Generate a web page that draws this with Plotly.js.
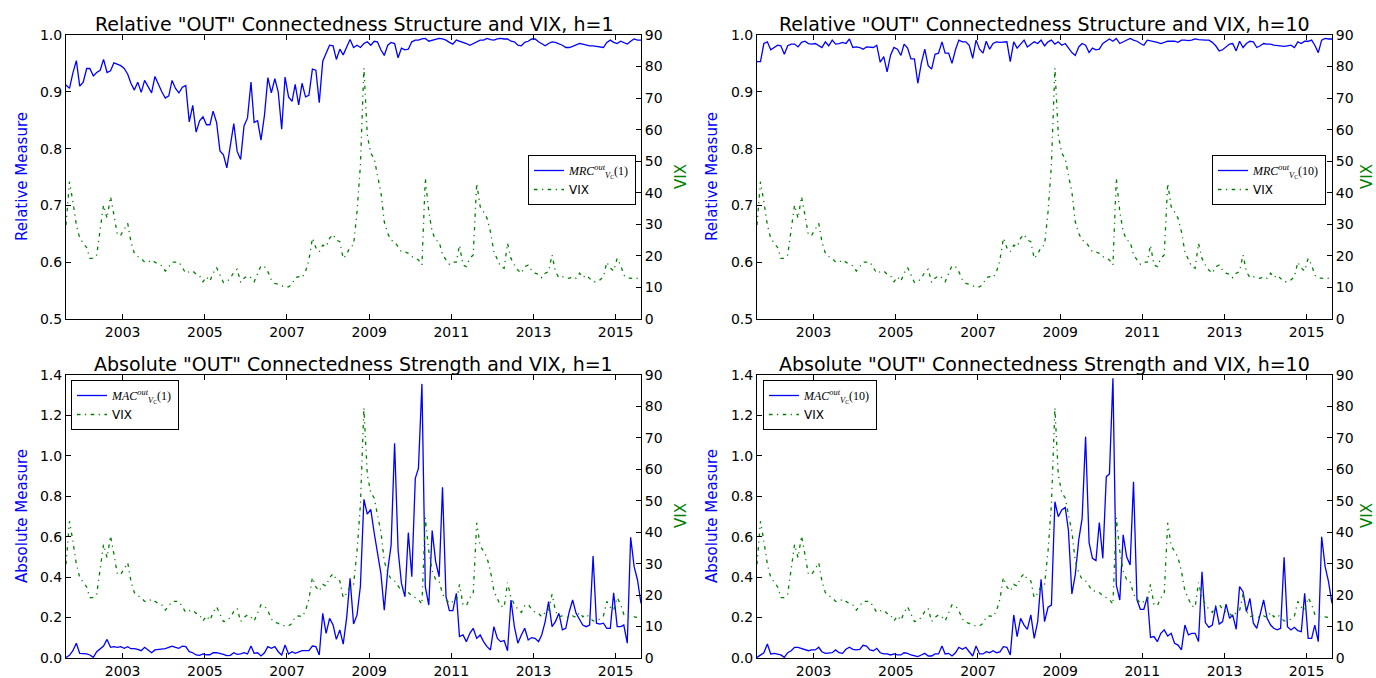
<!DOCTYPE html>
<html>
<head>
<meta charset="utf-8">
<script src="https://cdn.plot.ly/plotly-3.0.1.min.js"></script>
<style>html,body{margin:0;padding:0;background:#fff;}</style>
</head>
<body>
<div id="chart" style="width:1376px;height:678px;"></div>
<script>
// Monthly observations, Aug 2001 .. Aug 2015
const firstYear = 2001, firstMonth = 8, monthCount = 169;
const dates = [];
for (let k = 0; k < monthCount; k++) {
  const m = firstMonth - 1 + k;
  dates.push(`${firstYear + Math.floor(m / 12)}-${String((m % 12) + 1).padStart(2, '0')}-15`);
}

const yearTicks = ['2003', '2005', '2007', '2009', '2011', '2013', '2015'];

const vix = [
  29.8, 43.5, 37.2, 29.8, 25.6, 24.0, 22.6, 19.2, 19.2, 20.3,
  27.7, 36.1, 31.9, 38.8, 33.0, 26.6, 26.6, 28.7, 30.3, 24.5,
  20.8, 19.8, 19.2, 18.0, 18.0, 18.7, 18.0, 17.3, 16.9, 15.2,
  16.6, 18.0, 18.0, 18.0, 16.3, 14.5, 15.0, 15.2, 14.2, 13.7,
  11.8, 13.4, 12.0, 14.5, 16.3, 13.7, 11.6, 11.8, 12.9, 14.8,
  15.8, 11.6, 12.9, 13.7, 13.1, 11.8, 14.5, 16.9, 16.6, 15.0,
  12.4, 11.3, 11.0, 10.6, 10.1, 10.2, 11.0, 13.1, 13.4, 13.1,
  15.0, 18.7, 25.6, 22.6, 21.3, 23.4, 22.9, 25.6, 26.8, 25.0,
  24.5, 19.2, 20.5, 22.9, 23.4, 34.0, 48.8, 79.6, 58.3, 52.5,
  50.9, 45.6, 40.3, 30.8, 27.1, 25.0, 24.5, 22.9, 21.3, 21.3,
  20.8, 19.8, 19.2, 18.7, 17.1, 44.6, 34.0, 27.7, 25.0, 24.5,
  20.3, 18.7, 17.3, 18.0, 18.0, 23.4, 17.1, 16.6, 19.2, 20.3,
  43.0, 35.6, 34.0, 31.9, 27.7, 21.3, 18.7, 16.6, 16.1, 24.0,
  19.2, 17.1, 15.5, 14.5, 16.6, 17.1, 15.5, 14.5, 14.2, 13.1,
  14.5, 15.0, 20.3, 15.0, 13.1, 13.4, 13.1, 12.9, 13.4, 12.9,
  14.5, 13.1, 13.9, 12.9, 11.8, 11.8, 12.4, 13.4, 18.0, 16.1,
  15.2, 19.2, 17.1, 13.9, 13.1, 12.9, 13.1, 12.9, 12.7
];

const mrc1 = [
  0.912, 0.906, 0.933, 0.955, 0.910, 0.917, 0.941, 0.941, 0.928, 0.934,
  0.938, 0.957, 0.934, 0.937, 0.951, 0.948, 0.946, 0.941, 0.931, 0.915,
  0.903, 0.917, 0.899, 0.920, 0.910, 0.898, 0.927, 0.913, 0.900, 0.889,
  0.893, 0.920, 0.906, 0.898, 0.908, 0.911, 0.847, 0.876, 0.829, 0.849,
  0.856, 0.842, 0.842, 0.866, 0.846, 0.796, 0.789, 0.766, 0.806, 0.844,
  0.795, 0.781, 0.840, 0.854, 0.917, 0.846, 0.849, 0.815, 0.859, 0.925,
  0.898, 0.923, 0.900, 0.834, 0.926, 0.891, 0.883, 0.913, 0.877, 0.915,
  0.891, 0.894, 0.940, 0.938, 0.881, 0.954, 0.968, 0.982, 0.981, 0.957,
  0.975, 0.965, 0.979, 0.992, 0.978, 0.982, 0.978, 0.985, 0.988, 0.982,
  0.989, 0.988, 0.974, 0.964, 0.982, 0.987, 0.985, 0.960, 0.977, 0.974,
  0.975, 0.988, 0.991, 0.991, 0.993, 0.994, 0.989, 0.991, 0.993, 0.994,
  0.993, 0.991, 0.987, 0.984, 0.991, 0.989, 0.988, 0.985, 0.982, 0.985,
  0.988, 0.991, 0.991, 0.994, 0.992, 0.991, 0.993, 0.994, 0.993, 0.993,
  0.989, 0.988, 0.982, 0.981, 0.987, 0.989, 0.993, 0.993, 0.988, 0.984,
  0.981, 0.985, 0.988, 0.987, 0.985, 0.982, 0.978, 0.978, 0.980, 0.982,
  0.985, 0.984, 0.982, 0.981, 0.981, 0.980, 0.980, 0.978, 0.987, 0.991,
  0.987, 0.985, 0.989, 0.987, 0.984, 0.989, 0.993, 0.991, 0.991
];

const mrc10 = [
  0.953, 0.953, 0.985, 0.988, 0.974, 0.978, 0.982, 0.981, 0.966, 0.981,
  0.984, 0.984, 0.979, 0.987, 0.989, 0.985, 0.984, 0.985, 0.982, 0.978,
  0.988, 0.981, 0.991, 0.984, 0.985, 0.987, 0.985, 0.993, 0.978, 0.979,
  0.978, 0.975, 0.979, 0.979, 0.978, 0.982, 0.952, 0.962, 0.935, 0.965,
  0.978, 0.975, 0.964, 0.984, 0.977, 0.958, 0.958, 0.915, 0.950, 0.975,
  0.946, 0.940, 0.966, 0.968, 0.988, 0.968, 0.968, 0.950, 0.974, 0.991,
  0.988, 0.988, 0.982, 0.959, 0.991, 0.975, 0.968, 0.989, 0.975, 0.985,
  0.988, 0.987, 0.987, 0.988, 0.953, 0.988, 0.977, 0.985, 0.991, 0.979,
  0.984, 0.988, 0.985, 0.991, 0.981, 0.988, 0.991, 0.984, 0.988, 0.982,
  0.985, 0.978, 0.969, 0.964, 0.979, 0.985, 0.982, 0.969, 0.977, 0.974,
  0.975, 0.985, 0.989, 0.993, 0.989, 0.994, 0.985, 0.988, 0.991, 0.994,
  0.991, 0.989, 0.985, 0.982, 0.991, 0.990, 0.988, 0.987, 0.985, 0.987,
  0.989, 0.989, 0.989, 0.987, 0.991, 0.991, 0.990, 0.991, 0.993, 0.992,
  0.991, 0.991, 0.991, 0.987, 0.981, 0.972, 0.974, 0.979, 0.984, 0.985,
  0.972, 0.989, 0.978, 0.985, 0.989, 0.988, 0.978, 0.981, 0.985, 0.984,
  0.984, 0.982, 0.981, 0.981, 0.980, 0.981, 0.982, 0.978, 0.988, 0.985,
  0.989, 0.989, 0.991, 0.982, 0.969, 0.991, 0.994, 0.993, 0.993
];

const mac1 = [
  0.003, 0.013, 0.036, 0.073, 0.023, 0.023, 0.020, 0.015, 0.003, 0.031,
  0.043, 0.059, 0.092, 0.053, 0.056, 0.053, 0.056, 0.048, 0.056, 0.046,
  0.046, 0.043, 0.036, 0.053, 0.040, 0.026, 0.040, 0.043, 0.043, 0.046,
  0.053, 0.059, 0.053, 0.048, 0.059, 0.056, 0.031, 0.026, 0.015, 0.013,
  0.020, 0.016, 0.016, 0.026, 0.026, 0.023, 0.018, 0.012, 0.013, 0.026,
  0.018, 0.020, 0.026, 0.020, 0.059, 0.023, 0.026, 0.010, 0.026, 0.056,
  0.048, 0.056, 0.031, 0.015, 0.064, 0.020, 0.031, 0.023, 0.031, 0.036,
  0.036, 0.036, 0.059, 0.056, 0.015, 0.221, 0.122, 0.196, 0.163, 0.092,
  0.139, 0.069, 0.201, 0.394, 0.168, 0.213, 0.356, 0.785, 0.712, 0.735,
  0.617, 0.526, 0.419, 0.237, 0.435, 0.559, 1.062, 0.534, 0.369, 0.303,
  0.620, 0.402, 0.889, 0.938, 1.356, 0.353, 0.262, 0.630, 0.477, 0.402,
  0.844, 0.303, 0.234, 0.234, 0.320, 0.106, 0.114, 0.081, 0.122, 0.147,
  0.097, 0.114, 0.081, 0.056, 0.040, 0.155, 0.097, 0.081, 0.086, 0.036,
  0.287, 0.155, 0.073, 0.114, 0.147, 0.089, 0.101, 0.097, 0.081, 0.114,
  0.180, 0.279, 0.155, 0.180, 0.221, 0.139, 0.147, 0.229, 0.287, 0.221,
  0.188, 0.163, 0.155, 0.163, 0.505, 0.172, 0.168, 0.172, 0.147, 0.147,
  0.323, 0.155, 0.155, 0.163, 0.073, 0.597, 0.452, 0.386, 0.270
];

const mac10 = [
  0.003, 0.013, 0.026, 0.069, 0.020, 0.023, 0.020, 0.015, 0.003, 0.026,
  0.036, 0.053, 0.053, 0.048, 0.040, 0.036, 0.040, 0.040, 0.053, 0.031,
  0.023, 0.026, 0.026, 0.040, 0.026, 0.023, 0.043, 0.053, 0.043, 0.040,
  0.043, 0.063, 0.059, 0.040, 0.036, 0.048, 0.026, 0.020, 0.020, 0.015,
  0.020, 0.015, 0.015, 0.026, 0.023, 0.015, 0.010, 0.007, 0.015, 0.023,
  0.010, 0.010, 0.020, 0.020, 0.059, 0.020, 0.023, 0.010, 0.026, 0.053,
  0.043, 0.053, 0.031, 0.010, 0.059, 0.020, 0.020, 0.031, 0.026, 0.036,
  0.026, 0.030, 0.056, 0.053, 0.015, 0.213, 0.106, 0.196, 0.163, 0.142,
  0.213, 0.097, 0.180, 0.389, 0.180, 0.251, 0.262, 0.773, 0.699, 0.732,
  0.745, 0.633, 0.317, 0.411, 0.584, 0.691, 1.095, 0.571, 0.493, 0.482,
  0.670, 0.493, 0.897, 0.910, 1.384, 0.361, 0.287, 0.609, 0.501, 0.460,
  0.872, 0.287, 0.241, 0.241, 0.303, 0.102, 0.106, 0.081, 0.122, 0.139,
  0.109, 0.122, 0.073, 0.064, 0.040, 0.163, 0.114, 0.122, 0.122, 0.081,
  0.427, 0.175, 0.152, 0.163, 0.257, 0.168, 0.180, 0.267, 0.196, 0.213,
  0.142, 0.353, 0.328, 0.229, 0.295, 0.172, 0.147, 0.221, 0.287, 0.196,
  0.163, 0.147, 0.139, 0.147, 0.498, 0.155, 0.139, 0.152, 0.135, 0.130,
  0.320, 0.097, 0.097, 0.163, 0.081, 0.600, 0.452, 0.378, 0.270
];

// ---- layout helpers (pixel -> paper) ----
const W = 1376, H = 678;
const fx = v => v / W;
const fy = v => 1 - v / H;
const colL = [fx(66), fx(641)], colR = [fx(757), fx(1332)];
const rowT = [fy(319), fy(35)], rowB = [fy(658), fy(375)];

const BLUE = '#0000ff', GREEN = '#008000';
const FONT = 'DejaVu Sans, Bitstream Vera Sans, sans-serif';

const frame = {
  showline: true, linecolor: 'black', linewidth: 1,
  ticks: 'inside', ticklen: 5, tickwidth: 1, tickcolor: 'black',
  showgrid: false, zeroline: false, fixedrange: true,
  tickfont: {family: FONT, size: 14, color: 'black'}
};

function xAxis(domain, anchor) {
  return Object.assign({}, frame, {
    type: 'date', domain, anchor, mirror: 'ticks',
    range: [dates[0], dates[dates.length - 1]],
    tickvals: yearTicks.map(y => y + '-01-01'), ticktext: yearTicks
  });
}
function leftAxis(domain, anchor, lo, hi, step) {
  return Object.assign({}, frame, {
    domain, anchor, range: [lo, hi], tick0: lo, dtick: step, tickformat: '.1f'
  });
}
function vixAxis(over, anchor) {
  return Object.assign({}, frame, {
    overlaying: over, anchor, side: 'right', range: [0, 90], tick0: 0, dtick: 10
  });
}

const mathName = (base, h) =>
  `<span style="font-family:'Liberation Serif',serif"><i>${base}</i><sup><i>out</i></sup><sub><i>V</i><sub>C</sub></sub>(${h})</span>`;

const lineW = 1.3;
const vixDash = '3.5px,4.5px,1.2px,4.5px';

function panel(xa, ya, yb, series, label, legendId) {
  return [
    {x: dates, y: series, xaxis: xa, yaxis: ya, type: 'scatter', mode: 'lines',
     name: label, legend: legendId, line: {color: BLUE, width: lineW}, hoverinfo: 'skip'},
    {x: dates, y: vix, xaxis: xa, yaxis: yb, type: 'scatter', mode: 'lines',
     name: 'VIX', legend: legendId, line: {color: GREEN, width: lineW, dash: vixDash}, hoverinfo: 'skip'}
  ];
}

const data = [].concat(
  panel('x', 'y', 'y2', mrc1, mathName('MRC', 1), 'legend'),
  panel('x2', 'y3', 'y4', mrc10, mathName('MRC', 10), 'legend2'),
  panel('x3', 'y5', 'y6', mac1, mathName('MAC', 1), 'legend3'),
  panel('x4', 'y7', 'y8', mac10, mathName('MAC', 10), 'legend4')
);

const legendBase = {
  bordercolor: 'black', borderwidth: 1, bgcolor: 'white',
  font: {family: FONT, size: 12, color: 'black'},
  itemwidth: 30, tracegroupgap: 0, orientation: 'v'
};

function title(text, cx, bottomPx) {
  return {text, xref: 'paper', yref: 'paper', x: cx, y: fy(bottomPx),
          xanchor: 'center', yanchor: 'bottom', showarrow: false,
          font: {family: FONT, size: 19, color: 'black'}};
}
function sideLabel(text, xPx, yMidPx, color) {
  return {text, xref: 'paper', yref: 'paper', x: fx(xPx), y: fy(yMidPx),
          xanchor: 'center', yanchor: 'middle', textangle: -90, showarrow: false,
          font: {family: FONT, size: 15, color}};
}

const layout = {
  width: W, height: H,
  margin: {l: 0, r: 0, t: 0, b: 0},
  paper_bgcolor: 'white', plot_bgcolor: 'white',
  xaxis: xAxis(colL, 'y'),
  yaxis: leftAxis(rowT, 'x', 0.5, 1.0, 0.1),
  yaxis2: vixAxis('y', 'x'),
  xaxis2: xAxis(colR, 'y3'),
  yaxis3: leftAxis(rowT, 'x2', 0.5, 1.0, 0.1),
  yaxis4: vixAxis('y3', 'x2'),
  xaxis3: xAxis(colL, 'y5'),
  yaxis5: leftAxis(rowB, 'x3', 0, 1.4, 0.2),
  yaxis6: vixAxis('y5', 'x3'),
  xaxis4: xAxis(colR, 'y7'),
  yaxis7: leftAxis(rowB, 'x4', 0, 1.4, 0.2),
  yaxis8: vixAxis('y7', 'x4'),
  legend:  Object.assign({}, legendBase, {x: fx(636), xanchor: 'right', y: fy(155), yanchor: 'top'}),
  legend2: Object.assign({}, legendBase, {x: fx(1326), xanchor: 'right', y: fy(155), yanchor: 'top'}),
  legend3: Object.assign({}, legendBase, {x: fx(71), xanchor: 'left', y: fy(380), yanchor: 'top'}),
  legend4: Object.assign({}, legendBase, {x: fx(763), xanchor: 'left', y: fy(380), yanchor: 'top'}),
  annotations: [
    title('Relative "OUT" Connectedness Structure and VIX, h=1', fx(353.5), 37),
    title('Relative "OUT" Connectedness Structure and VIX, h=10', fx(1044.5), 37),
    title('Absolute "OUT" Connectedness Strength and VIX, h=1', fx(353.5), 377),
    title('Absolute "OUT" Connectedness Strength and VIX, h=10', fx(1044.5), 377),
    sideLabel('Relative Measure', 22, 177, BLUE),
    sideLabel('VIX', 681, 177, GREEN),
    sideLabel('Relative Measure', 712, 177, BLUE),
    sideLabel('VIX', 1367, 177, GREEN),
    sideLabel('Absolute Measure', 22, 516, BLUE),
    sideLabel('VIX', 681, 516, GREEN),
    sideLabel('Absolute Measure', 712, 516, BLUE),
    sideLabel('VIX', 1367, 516, GREEN)
  ],
  showlegend: true
};

Plotly.newPlot('chart', data, layout, {staticPlot: true, displayModeBar: false});
</script>
</body>
</html>
